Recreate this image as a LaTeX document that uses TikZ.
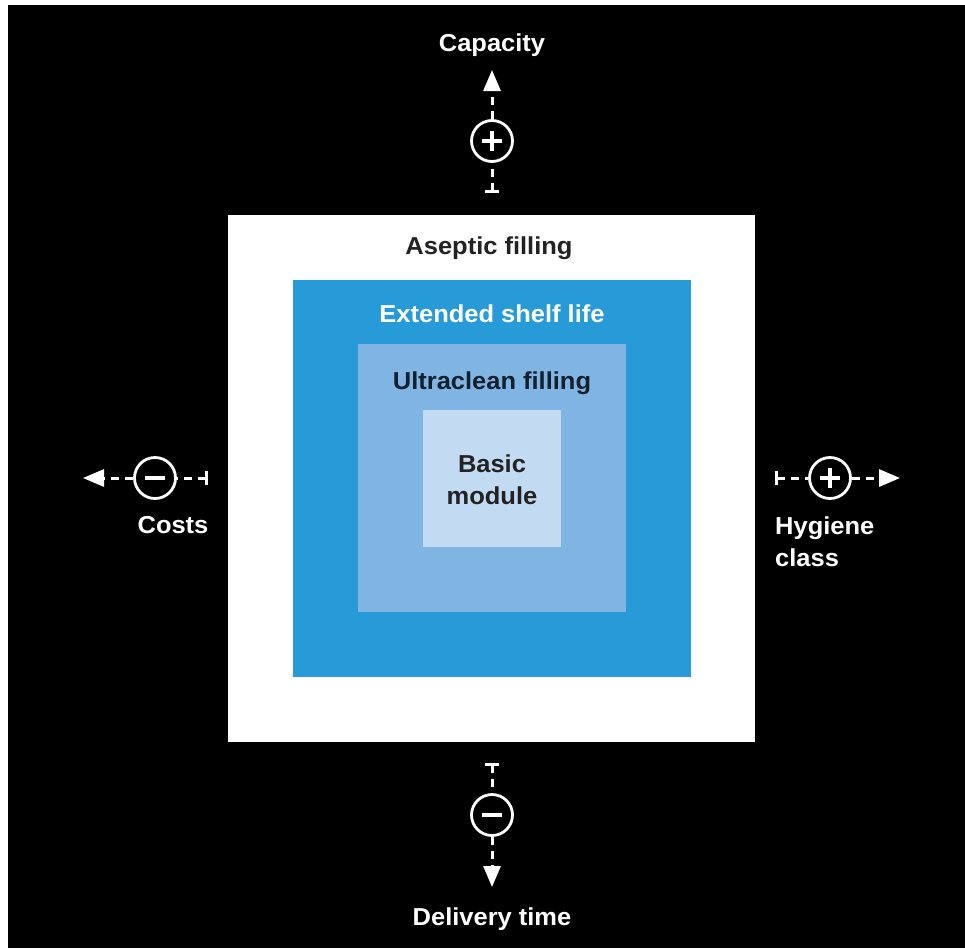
\documentclass[tikz,border=0pt]{standalone}
\usepackage{fontspec}
\setmainfont{Liberation Sans}[FakeStretch=1.04]
\usetikzlibrary{arrows.meta}
\definecolor{bluedark}{HTML}{279BD7}
\definecolor{bluemid}{HTML}{80B4E2}
\definecolor{bluelight}{HTML}{C2DAF2}
\definecolor{txtdark}{HTML}{222222}
\definecolor{txtnavy}{HTML}{10202F}
\tikzset{
  lbl/.style={font=\fontsize{24.5}{32}\selectfont\bfseries, inner sep=0pt, anchor=base},
  circ/.style={circle, draw=white, fill=black, line width=2.8pt, minimum size=41pt, inner sep=0pt},
  conn/.style={draw=white, line width=3pt, dash pattern=on 8pt off 6pt},
  tbar/.style={{Bar[width=14pt,line width=3pt]}-},
  tip/.style={-{Triangle[length=21pt,width=17pt]}},
  sign/.style={draw=white, line width=4pt}
}
\begin{document}
\begin{tikzpicture}[x=1pt,y=-1pt]
\useasboundingbox (0,0) rectangle (965,948);
\fill[white] (0,0) rectangle (965,948);
\fill[black] (8,5) rectangle (965,948);
% boxes
\node[fill=white, minimum width=527pt, minimum height=527pt, inner sep=0pt] (asep) at (491.5,478.5) {};
\node[fill=bluedark, minimum width=398pt, minimum height=397pt, inner sep=0pt] (ext) at (492,478.5) {};
\node[fill=bluemid, minimum width=268pt, minimum height=268pt, inner sep=0pt] (ultra) at (492,478) {};
\node[fill=bluelight, minimum width=138pt, minimum height=137pt, inner sep=0pt] (basic) at (492,478.5) {};
% box texts
\node[lbl, text=txtdark] (tasep) at (489,254) {Aseptic filling};
\node[lbl, text=white] (text) at (492,322) {Extended shelf life};
\node[lbl, text=txtnavy] (tultra) at (492,389) {Ultraclean filling};
\node[lbl, text=txtdark] (tbasic1) at (492,472) {Basic};
\node[lbl, text=txtdark] (tbasic2) at (492,504) {module};
% outer labels
\node[lbl, text=white] (lcap) at (492,51) {Capacity};
\node[lbl, text=white] (lcost) at (173,533) {Costs};
\node[lbl, text=white, anchor=base west] (lhyg1) at (775,534) {Hygiene};
\node[lbl, text=white, anchor=base west] (lhyg2) at (775,566) {class};
\node[lbl, text=white] (ldel) at (492,925) {Delivery time};
% top: capacity
\coordinate (capT) at (492,193);
\coordinate (capA) at (492,70);
\node[circ] (capC) at (492,141) {};
\draw[conn, tbar] (capT) -- (capC.south);
\draw[conn, tip] (capC.north) -- (capA);
\draw[sign] ([xshift=-10pt]capC.center) -- ([xshift=10pt]capC.center);
\draw[sign] ([yshift=-10pt]capC.center) -- ([yshift=10pt]capC.center);
% left: costs
\coordinate (cosT) at (208,478);
\coordinate (cosA) at (83,478);
\node[circ] (cosC) at (155,478) {};
\draw[conn, tbar] (cosT) -- (cosC.east);
\draw[conn, tip] (cosC.west) -- (cosA);
\draw[sign] ([xshift=-10pt]cosC.center) -- ([xshift=10pt]cosC.center);
% right: hygiene
\coordinate (hygT) at (775,478);
\coordinate (hygA) at (900,478);
\node[circ] (hygC) at (830,478) {};
\draw[conn, tbar] (hygT) -- (hygC.west);
\draw[conn, tip] (hygC.east) -- (hygA);
\draw[sign] ([xshift=-10pt]hygC.center) -- ([xshift=10pt]hygC.center);
\draw[sign] ([yshift=-10pt]hygC.center) -- ([yshift=10pt]hygC.center);
% bottom: delivery
\coordinate (delT) at (492,763);
\coordinate (delA) at (492,887);
\node[circ] (delC) at (492,815) {};
\draw[conn, tbar] (delT) -- (delC.north);
\draw[conn, tip] (delC.south) -- (delA);
\draw[sign] ([xshift=-10pt]delC.center) -- ([xshift=10pt]delC.center);
\end{tikzpicture}
\end{document}
